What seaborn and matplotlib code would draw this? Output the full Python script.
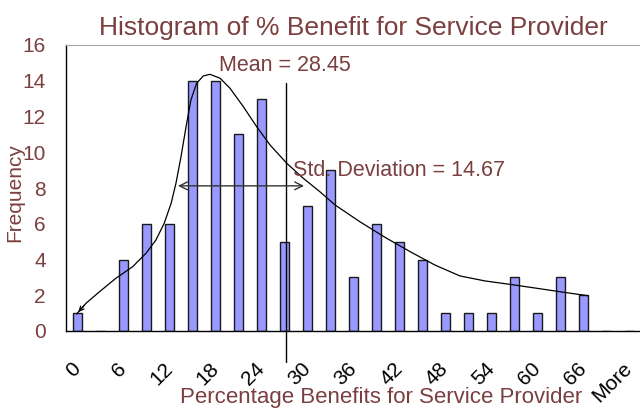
import numpy as np
import pandas as pd
import matplotlib
matplotlib.use('Agg')
import matplotlib.pyplot as plt
import seaborn as sns

# Histogram bins (Excel style, every 3 %) and counts
bins = ['0', '3', '6', '9', '12', '15', '18', '21', '24', '27', '30', '33', '36',
        '39', '42', '45', '48', '51', '54', '57', '60', '63', '66', '69', 'More']
freq = [1, 0, 4, 6, 6, 14, 14, 11, 13, 5, 7, 9, 3, 6, 5, 4, 1, 1, 1, 3, 1, 3, 2, 0, 0]
tick_labels = ['0', '6', '12', '18', '24', '30', '36', '42', '48', '54', '60', '66', 'More']

# hand drawn smooth curve (x in bin units, y in frequency)
curve_x = [-0.04, 0.37, 0.95, 1.67, 2.40, 2.98, 3.41, 3.77, 4.07, 4.28, 4.50, 4.72,
           4.93, 5.18, 5.47, 5.76, 6.20, 6.63, 7.21, 7.79, 8.37, 9.10, 9.82, 10.54,
           11.20, 12.28, 13.37, 14.46, 15.54, 16.63, 17.72, 18.80, 19.97, 21.12, 22.21]
curve_y = [0.95, 1.55, 2.19, 2.95, 3.60, 4.35, 5.09, 6.03, 7.14, 8.26, 9.75, 11.43,
           12.92, 13.86, 14.27, 14.36, 14.14, 13.58, 12.55, 11.43, 10.41, 9.38, 8.54, 7.79,
           7.05, 6.11, 5.24, 4.44, 3.69, 3.08, 2.80, 2.61, 2.39, 2.17, 1.97]

mean_val = 28.45
std_val = 14.67
mean_x = 9.05
std_left, std_right, std_y = 4.25, 9.97, 8.12

red = '#7b3f3f'
grey = '#a6a6a6'

sns.set_style('white')
plt.rcParams['font.family'] = ['Liberation Sans', 'DejaVu Sans']

df = pd.DataFrame({'pos': np.arange(len(bins)), 'freq': freq})

fig = plt.figure(figsize=(6.4, 4.12), dpi=100)
ax = fig.add_axes([66 / 640, 81 / 412, 575 / 640, 286 / 412])

sns.barplot(data=df, x='pos', y='freq', native_scale=True, orient='x',
            color='#9999ff', saturation=1, edgecolor='#1a1a1a', linewidth=1,
            width=0.42, errorbar=None, ax=ax)

ax.plot(curve_x, curve_y, color='black', lw=0.9)
ax.annotate('', xy=(curve_x[0], curve_y[0]), xytext=(curve_x[1], curve_y[1]),
            arrowprops=dict(arrowstyle='->', lw=0.9, color='black', mutation_scale=8))

ax.plot([mean_x, mean_x], [-1.73, 13.86], color='black', lw=1, clip_on=False)
ax.annotate('', xy=(std_left, std_y), xytext=(std_right, std_y),
            arrowprops=dict(arrowstyle='<->', lw=1, color='#333333', mutation_scale=14))
ax.text(6.17, 14.56, f'Mean = {mean_val:.2f}', color=red, fontsize=15.5,
        ha='left', va='baseline')
ax.text(9.38, 8.67, f'Std. Deviation = {std_val:.2f}', color=red, fontsize=15.5,
        ha='left', va='baseline')

ax.set_xlim(-0.5, 24.5)
ax.set_ylim(0, 16)
ax.set_yticks(range(0, 17, 2))
ax.set_xticks(np.arange(0, len(bins), 2))
ax.set_xticklabels(tick_labels)
ax.set_xticks(np.arange(-0.5, len(bins), 1), minor=True)
ax.set_xlabel('')
ax.set_ylabel('')

ax.tick_params(axis='x', which='major', length=0, pad=25, labelsize=15, labelcolor='black')
ax.tick_params(axis='x', which='minor', length=8.6, direction='inout', color=grey, width=1)
ax.tick_params(axis='y', which='major', length=9.9, direction='inout', color=grey, width=1,
               pad=9.5, labelsize=15, labelcolor=red)
plt.setp(ax.get_xticklabels(), rotation=45, ha='right', va='center', rotation_mode='anchor')

for side in ['left', 'bottom']:
    ax.spines[side].set_color('black')
    ax.spines[side].set_linewidth(1)
ax.spines['top'].set_color(grey)
ax.spines['right'].set_visible(False)

fig.text(353.5 / 640, 1 - 35 / 412, 'Histogram of % Benefit for Service Provider',
         ha='center', va='baseline', fontsize=19, color=red)
fig.text(15 / 640, 1 - 193 / 412, 'Frequency', rotation=90, ha='center', va='center',
         fontsize=15, color=red)
fig.text(381.5 / 640, 1 - 397 / 412, 'Percentage Benefits for Service Provider',
         ha='center', va='center', fontsize=16, color=red)

fig.savefig('out.png', dpi=100)
